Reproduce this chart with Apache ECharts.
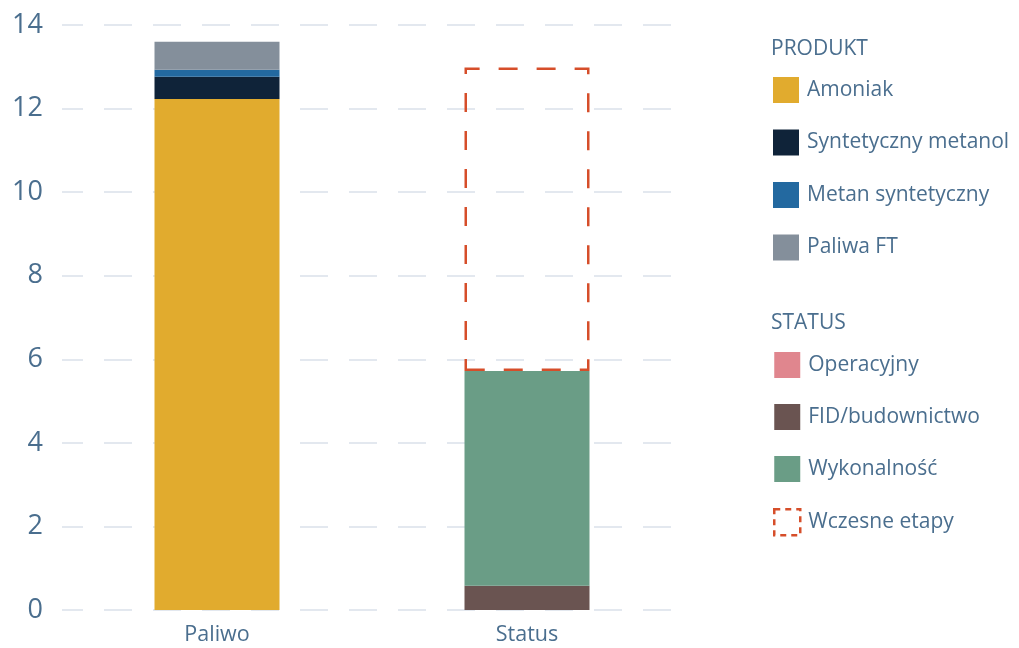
<!DOCTYPE html>
<html>
<head>
<meta charset="utf-8">
<script src="https://cdn.jsdelivr.net/npm/echarts@6/dist/echarts.min.js"></script>
<style>
html,body{margin:0;padding:0;background:#fff;}
#chart{width:1019px;height:648px;}
</style>
</head>
<body>
<div id="chart"></div>
<script>
const categories = ['Paliwo', 'Status'];
const yTicks = [0, 2, 4, 6, 8, 10, 12, 14];

const productNames = ['Amoniak', 'Syntetyczny metanol', 'Metan syntetyczny', 'Paliwa FT'];
const productValues = [12.23, 0.53, 0.17, 0.67];

const statusNames = ['Operacyjny', 'FID/budownictwo', 'Wykonalność', 'Wczesne etapy'];
const statusValues = [0, 0.58, 5.14, 7.26];

const legendTitles = ['PRODUKT', 'STATUS'];

const productColors = ['#E1AB2E', '#0F2339', '#2369A0', '#848F9B'];
const statusColors = ['#E0868E', '#6A5451', '#6A9D86', '#D64E2A'];
const textColor = '#4A6E8E';
const fontFamily = '"Open Sans", Lato, sans-serif';

const series = [];
productNames.forEach((n, i) => {
  series.push({
    name: n, type: 'bar', stack: 'total', barWidth: 125,
    itemStyle: { color: productColors[i] },
    data: [productValues[i], '-']
  });
});
statusNames.forEach((n, i) => {
  const early = i === 3;
  series.push({
    name: n, type: 'bar', stack: 'total', barWidth: 125,
    itemStyle: early ? {
      color: 'transparent', borderColor: statusColors[i], borderType: [19, 19],
      borderWidth: 2.5
    } : { color: statusColors[i] },
    data: ['-', statusValues[i]]
  });
});

const legendText = { color: textColor, fontSize: 21, fontFamily: fontFamily, lineHeight: 26, padding: [0, 0, 0, 3] };

const chart = echarts.init(document.getElementById('chart'), null, { renderer: 'canvas' });
chart.setOption({
  animation: false,
  textStyle: { fontFamily: fontFamily },
  grid: { left: 62, right: 337, top: 25, bottom: 38, containLabel: false },
  xAxis: {
    type: 'category', data: categories,
    axisLine: { show: false }, axisTick: { show: false },
    axisLabel: { color: textColor, fontSize: 21.5, margin: 14, fontFamily: fontFamily }
  },
  yAxis: {
    type: 'value', min: yTicks[0], max: yTicks[yTicks.length - 1], interval: 2,
    axisLine: { show: false }, axisTick: { show: false },
    axisLabel: { color: textColor, fontSize: 27, margin: 19, fontFamily: fontFamily },
    splitLine: { show: true, lineStyle: { color: '#E3E8EF', width: 2, type: [28, 21], dashOffset: 7 } }
  },
  legend: [
    {
      orient: 'vertical', left: 773, top: 77, padding: 0, itemWidth: 26, itemHeight: 26, itemGap: 26.5,
      icon: 'rect', textStyle: legendText, selectedMode: false,
      data: productNames
    },
    {
      orient: 'vertical', left: 773, top: 352, padding: 0, itemWidth: 26, itemHeight: 26, itemGap: 26,
      icon: 'rect', textStyle: legendText, selectedMode: false,
      data: statusNames.map((n, i) => i === 3 ? {
        name: n,
        itemStyle: { color: 'transparent', borderColor: statusColors[3], borderType: [6, 5], borderWidth: 2.5 }
      } : n)
    }
  ],
  graphic: [
    { type: 'text', left: 771, top: 39, style: { text: legendTitles[0], fill: textColor, font: '21px ' + fontFamily } },
    { type: 'text', left: 771, top: 313, style: { text: legendTitles[1], fill: textColor, font: '21px ' + fontFamily } }
  ],
  series: series
});
</script>
</body>
</html>
